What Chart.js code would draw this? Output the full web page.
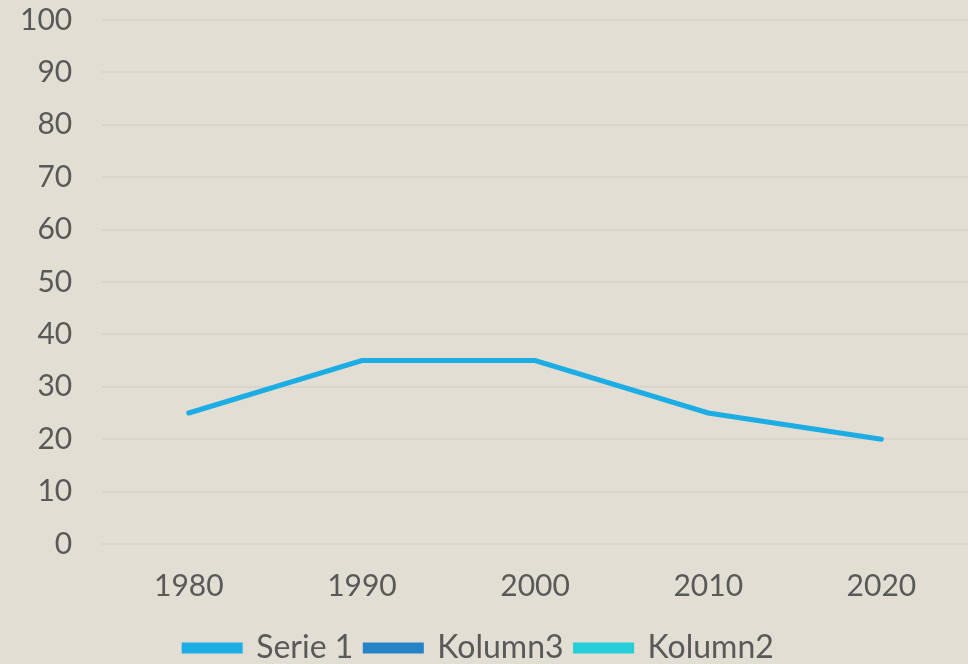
<!DOCTYPE html>
<html>
<head>
<meta charset="utf-8">
<script src="https://cdn.jsdelivr.net/npm/chart.js@4"></script>
<style>
  html, body { margin: 0; padding: 0; background: #E3DED3; overflow: hidden; }
  #wrap { width: 968px; height: 702px; margin-top: -28px; }
</style>
</head>
<body>
<div id="wrap"><canvas id="chart"></canvas></div>
<script>
// data
const years = ['1980', '1990', '2000', '2010', '2020'];
const serie1 = [25, 35, 35, 25, 20];
const kolumn3 = [null, null, null, null, null];
const kolumn2 = [null, null, null, null, null];

const FONT = "'Lato', 'Noto Sans', sans-serif";
const TXT = '#595959';

function ds(label, data, color) {
  return { label, data, borderColor: color, backgroundColor: color,
    borderWidth: 5, pointRadius: 0, tension: 0, borderCapStyle: 'round' };
}

new Chart(document.getElementById('chart'), {
  type: 'line',
  data: {
    labels: years,
    datasets: [
      ds('Serie 1', serie1, '#1CADE4'),
      ds('Kolumn3', kolumn3, '#2683C6'),
      ds('Kolumn2', kolumn2, '#27CED7')
    ]
  },
  options: {
    responsive: true, maintainAspectRatio: false, animation: false,
    layout: { padding: { top: 0, right: 0, left: -10, bottom: 0 } },
    plugins: {
      tooltip: { enabled: false },
      legend: {
        position: 'bottom',
        labels: { boxWidth: 56, boxHeight: 6, padding: 12, color: TXT,
          font: { family: FONT, size: 32 } }
      }
    },
    scales: {
      x: {
        offset: true,
        grid: { display: false },
        border: { display: false },
        ticks: { color: TXT, padding: 16, font: { family: FONT, size: 30 } }
      },
      y: {
        min: 0, max: 100,
        grid: { color: '#D9D5CC', lineWidth: 2, drawTicks: false },
        border: { display: false },
        ticks: { stepSize: 10, color: TXT, padding: 30, font: { family: FONT, size: 30 } }
      }
    }
  }
});
</script>
</body>
</html>
